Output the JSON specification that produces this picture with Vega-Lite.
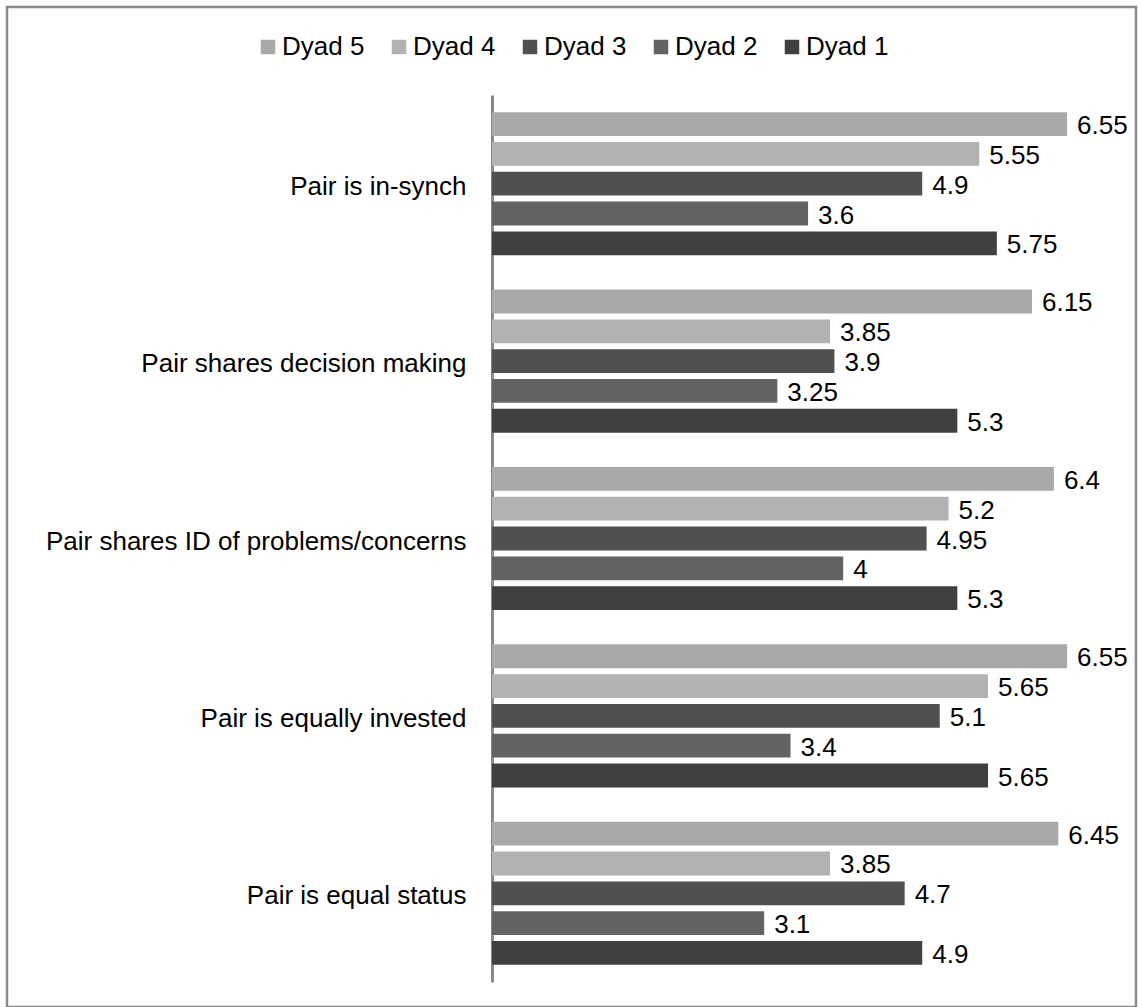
{
  "$schema": "https://vega.github.io/schema/vega-lite/v6.json",
  "autosize": {"type": "none"},
  "width": 1129,
  "height": 1000,
  "padding": {"left": 7, "top": 7, "right": 2, "bottom": 0},
  "background": "white",
  "config": {
    "font": "Liberation Sans",
    "view": {"stroke": "#8a8a8a", "strokeWidth": 2.5}
  },
  "data": {
    "values": [
      {"item": "Pair is in-synch", "dyad": "Dyad 5", "value": 6.55},
      {"item": "Pair is in-synch", "dyad": "Dyad 4", "value": 5.55},
      {"item": "Pair is in-synch", "dyad": "Dyad 3", "value": 4.9},
      {"item": "Pair is in-synch", "dyad": "Dyad 2", "value": 3.6},
      {"item": "Pair is in-synch", "dyad": "Dyad 1", "value": 5.75},
      {"item": "Pair shares  decision making", "dyad": "Dyad 5", "value": 6.15},
      {"item": "Pair shares  decision making", "dyad": "Dyad 4", "value": 3.85},
      {"item": "Pair shares  decision making", "dyad": "Dyad 3", "value": 3.9},
      {"item": "Pair shares  decision making", "dyad": "Dyad 2", "value": 3.25},
      {"item": "Pair shares  decision making", "dyad": "Dyad 1", "value": 5.3},
      {"item": "Pair shares  ID of problems/concerns", "dyad": "Dyad 5", "value": 6.4},
      {"item": "Pair shares  ID of problems/concerns", "dyad": "Dyad 4", "value": 5.2},
      {"item": "Pair shares  ID of problems/concerns", "dyad": "Dyad 3", "value": 4.95},
      {"item": "Pair shares  ID of problems/concerns", "dyad": "Dyad 2", "value": 4},
      {"item": "Pair shares  ID of problems/concerns", "dyad": "Dyad 1", "value": 5.3},
      {"item": "Pair is equally invested", "dyad": "Dyad 5", "value": 6.55},
      {"item": "Pair is equally invested", "dyad": "Dyad 4", "value": 5.65},
      {"item": "Pair is equally invested", "dyad": "Dyad 3", "value": 5.1},
      {"item": "Pair is equally invested", "dyad": "Dyad 2", "value": 3.4},
      {"item": "Pair is equally invested", "dyad": "Dyad 1", "value": 5.65},
      {"item": "Pair is equal status", "dyad": "Dyad 5", "value": 6.45},
      {"item": "Pair is equal status", "dyad": "Dyad 4", "value": 3.85},
      {"item": "Pair is equal status", "dyad": "Dyad 3", "value": 4.7},
      {"item": "Pair is equal status", "dyad": "Dyad 2", "value": 3.1},
      {"item": "Pair is equal status", "dyad": "Dyad 1", "value": 4.9}
    ]
  },
  "encoding": {
    "y": {
      "field": "item",
      "type": "nominal",
      "sort": null,
      "scale": {"range": [88, 975], "paddingInner": 0.16, "paddingOuter": 0.08},
      "axis": {
        "title": null,
        "offset": -485,
        "ticks": false,
        "tickSize": 0,
        "labelPadding": 26,
        "labelOffset": 3,
        "labelFontSize": 26,
        "labelColor": "#000000",
        "labelLimit": 600,
        "domainColor": "#8a8a8a",
        "domainWidth": 3
      }
    },
    "yOffset": {
      "field": "dyad",
      "type": "nominal",
      "sort": ["Dyad 5", "Dyad 4", "Dyad 3", "Dyad 2", "Dyad 1"],
      "scale": {"paddingInner": 0.2, "paddingOuter": 0.1}
    },
    "x": {
      "field": "value",
      "type": "quantitative",
      "scale": {"domain": [-5.524, 7.335], "nice": false, "zero": false},
      "axis": null
    }
  },
  "layer": [
    {
      "mark": {"type": "bar"},
      "encoding": {
        "color": {
          "field": "dyad",
          "type": "nominal",
          "scale": {
            "domain": ["Dyad 5", "Dyad 4", "Dyad 3", "Dyad 2", "Dyad 1"],
            "range": ["#a9a9a9", "#b2b2b2", "#505050", "#636363", "#404040"]
          },
          "legend": {
            "title": null,
            "orient": "none",
            "direction": "horizontal",
            "legendX": 248,
            "legendY": 27,
            "symbolType": "square",
            "symbolSize": 210,
            "symbolStrokeWidth": 0,
            "labelFontSize": 26,
            "labelColor": "#000000",
            "labelOffset": 1,
            "columnPadding": 21
          }
        }
      }
    },
    {
      "mark": {"type": "text", "align": "left", "baseline": "middle", "dx": 10, "dy": 2, "fontSize": 26, "color": "#000000"},
      "encoding": {
        "text": {"field": "value", "type": "quantitative"}
      }
    }
  ]
}
